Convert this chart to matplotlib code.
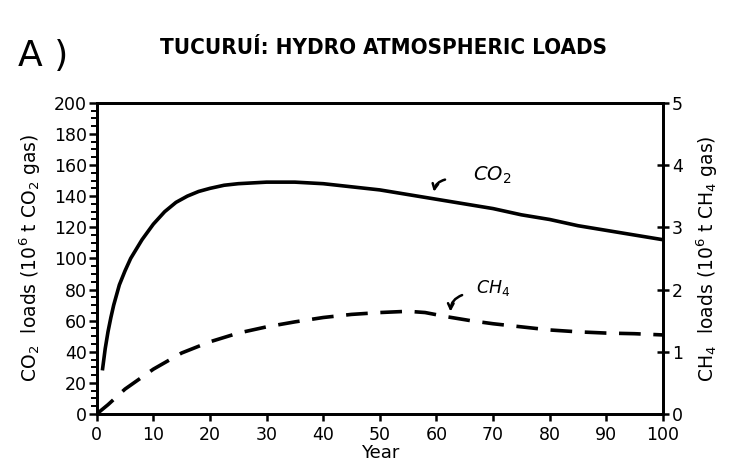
import matplotlib
matplotlib.use("Agg")
import matplotlib.pyplot as plt
from matplotlib.ticker import MultipleLocator

# CO2 loads, 10^6 t CO2 gas (left axis)
co2_year = [1, 1.5, 2, 2.5, 3, 4, 5, 6, 7, 8, 9, 10, 12, 14, 16, 18, 20,
            22.5, 25, 30, 35, 40, 45, 50, 55, 60, 65, 70, 75, 80, 85, 90,
            95, 100]
co2_load = [28, 42, 53, 62, 70, 83, 92, 100, 106, 112, 117, 122, 130, 136,
            140, 143, 145, 147, 148, 149, 149, 148, 146, 144, 141, 138, 135,
            132, 128, 125, 121, 118, 115, 112]

# CH4 loads, 10^6 t CH4 gas (right axis)
ch4_year = [0, 2, 5, 10, 15, 20, 25, 30, 35, 40, 45, 50, 55, 58, 62, 66, 70,
            75, 80, 85, 90, 95, 100]
ch4_load = [0, 0.15, 0.4, 0.72, 0.98, 1.16, 1.3, 1.4, 1.48, 1.55, 1.6, 1.63,
            1.65, 1.63, 1.56, 1.5, 1.45, 1.4, 1.35, 1.32, 1.3, 1.29, 1.27]

x_ticks = list(range(0, 101, 10))
left_ticks = list(range(0, 201, 20))
right_ticks = [0, 1, 2, 3, 4, 5]

plt.rcParams['font.family'] = ['DejaVu Sans']

fig = plt.figure(figsize=(7.44, 4.68), dpi=100)
ax = fig.add_axes([0.130, 0.1154, 0.761, 0.665])
ax2 = ax.twinx()

ax.plot(co2_year, co2_load, color='black', lw=2.6, solid_capstyle='butt')
ax2.plot(ch4_year, ch4_load, color='black', lw=2.6, dashes=[6, 3.5])

ax.set_xlim(0, 100)
ax.set_ylim(0, 200)
ax2.set_ylim(0, 5)
ax.set_xticks(x_ticks)
ax.set_yticks(left_ticks)
ax.yaxis.set_minor_locator(MultipleLocator(5))
ax2.set_yticks(right_ticks)

for a in (ax, ax2):
    for s in a.spines.values():
        s.set_linewidth(2)

ax.tick_params(axis='x', direction='out', length=5, width=1.8, labelsize=12.5, pad=4)
ax.tick_params(axis='y', which='major', direction='out', length=6, width=1.8,
               labelsize=12.5, pad=1)
ax.tick_params(axis='y', which='minor', direction='out', length=4, width=1.4)
ax2.tick_params(axis='y', direction='inout', length=9, width=1.8, labelsize=12.5, pad=2)

ax.set_xlabel('Year', fontsize=13, labelpad=0)
ax.set_ylabel('CO$_2$  loads (10$^6$ t CO$_2$ gas)', fontsize=13.5, labelpad=8)
ax2.set_ylabel('CH$_4$  loads (10$^6$ t CH$_4$ gas)', fontsize=13.5, rotation=90,
               labelpad=8)

# hand-written curve labels
ax.annotate('', xy=(59.5, 141), xytext=(62, 151),
            arrowprops=dict(arrowstyle='->', lw=1.8, color='black',
                            connectionstyle='arc3,rad=0.4'))
ax.text(66.5, 150, 'CO$_2$', fontsize=14, fontstyle='italic')
ax.annotate('', xy=(62.5, 64), xytext=(65, 77),
            arrowprops=dict(arrowstyle='->', lw=1.8, color='black',
                            connectionstyle='arc3,rad=0.4'))
ax.text(67, 78, 'CH$_4$', fontsize=12.5, fontstyle='italic')

fig.text(0.024, 0.88, 'A )', fontsize=26, va='center')
fig.text(0.515, 0.897, 'TUCURUÍ: HYDRO ATMOSPHERIC LOADS', fontsize=16,
         fontweight='bold', ha='center', va='center', fontstretch='condensed')

fig.savefig('out.png', dpi=100)
